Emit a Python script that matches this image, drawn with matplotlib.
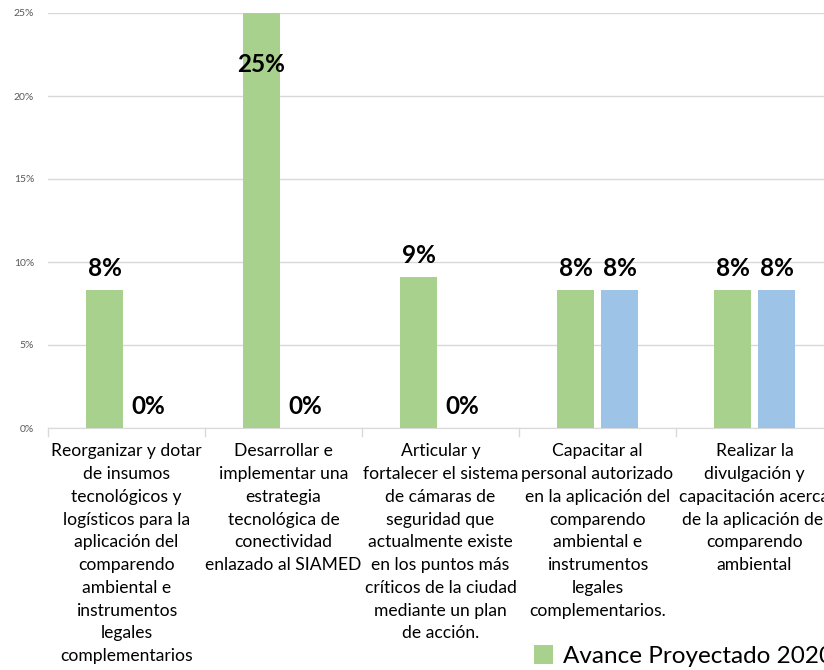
import matplotlib.pyplot as plt
import numpy as np

plt.rcParams['font.family'] = ['Lato', 'DejaVu Sans']

# Data
categories = [
    "Reorganizar y dotar\nde insumos\ntecnológicos y\nlogísticos para la\naplicación del\ncomparendo\nambiental e\ninstrumentos\nlegales\ncomplementarios",
    "Desarrollar e\nimplementar una\nestrategia\ntecnológica de\nconectividad\nenlazado al SIAMED",
    "Articular y\nfortalecer el sistema\nde cámaras de\nseguridad que\nactualmente existe\nen los puntos más\ncríticos de la ciudad\nmediante un plan\nde acción.",
    "Capacitar al\npersonal autorizado\nen la aplicación del\ncomparendo\nambiental e\ninstrumentos\nlegales\ncomplementarios.",
    "Realizar la\ndivulgación y\ncapacitación acerca\nde la aplicación del\ncomparendo\nambiental",
]
series_names = ["Avance Proyectado 2020", "Avance Ejecutado 2020"]
proyectado = [8.33, 25.0, 9.09, 8.33, 8.33]
ejecutado = [0.0, 0.0, 0.0, 8.33, 8.33]
labels_proy = ["8%", "25%", "9%", "8%", "8%"]
labels_ejec = ["0%", "0%", "0%", "8%", "8%"]

green = "#a9d18e"
blue = "#9dc3e6"

fig = plt.figure(figsize=(8.24, 6.7), dpi=100)
ax = fig.add_axes([48 / 824, 1 - 428 / 670, 785 / 824, 415 / 670])

x = np.arange(len(categories))
w = 0.23
off = 0.14
b1 = ax.bar(x - off, proyectado, w, color=green, label=series_names[0], zorder=3)
b2 = ax.bar(x + off, ejecutado, w, color=blue, label=series_names[1], zorder=3)

ax.set_ylim(0, 25)
ax.set_xlim(-0.5, len(categories) - 0.5)
ax.set_yticks([0, 5, 10, 15, 20, 25])
ax.set_yticklabels(["0%", "5%", "10%", "15%", "20%", "25%"], fontsize=7.5, color="#595959")
ax.tick_params(axis="y", length=0, pad=10)
ax.yaxis.grid(True, color="#d9d9d9", linewidth=1, zorder=0)

# category labels between boundary ticks
ax.set_xticks(x)
ax.set_xticklabels(categories, fontsize=12.6, linespacing=1.52)
ax.tick_params(axis="x", length=0, pad=11)
for b in np.arange(-0.5, len(categories), 1.0):
    ax.plot([b, b], [0, -0.5], color="#d9d9d9", lw=1, clip_on=False, zorder=1)

for s in ["top", "right", "left"]:
    ax.spines[s].set_visible(False)
ax.spines["bottom"].set_color("#d9d9d9")

# data labels
for i, (v, t) in enumerate(zip(proyectado, labels_proy)):
    if v >= 24:
        ax.text(x[i] - off, v - 2.4, t, ha="center", va="top", fontsize=17.5, fontweight="bold", zorder=4)
    else:
        ax.text(x[i] - off, v + 0.6, t, ha="center", va="bottom", fontsize=17.5, fontweight="bold", zorder=4)
for i, (v, t) in enumerate(zip(ejecutado, labels_ejec)):
    ax.text(x[i] + off, v + 0.6, t, ha="center", va="bottom", fontsize=17.5, fontweight="bold", zorder=4)

fig.legend(handles=[b1, b2], loc="lower left", bbox_to_anchor=(512 / 824, -0.028),
           ncol=2, frameon=False, fontsize=17.5, handlelength=0.8, handleheight=0.8,
           handletextpad=0.4, columnspacing=1.5)

fig.savefig("out.png", dpi=100)
